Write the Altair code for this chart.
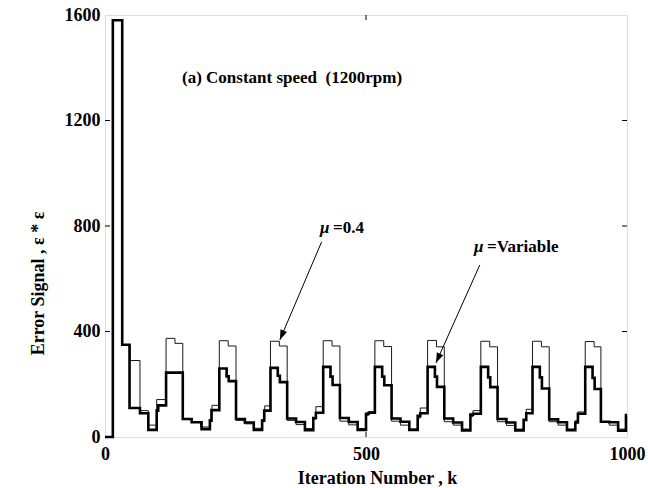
import altair as alt
import pandas as pd

# ---- data ----
# mu = 0.4 (thin line): step breakpoints (iteration k, value)
thin_k = [0, 15, 33, 48, 67, 83, 99, 117, 134, 149, 166, 183, 200, 205,
          219, 236, 251, 268, 285, 301, 306,
          317, 334, 349, 366, 383, 399, 404,
          418, 435, 450, 467, 484, 500, 505,
          517, 534, 549, 566, 583, 599, 604,
          618, 635, 650, 667, 684, 700, 705,
          720, 737, 752, 769, 786, 802, 807,
          819, 836, 851, 868, 885, 901, 906,
          920, 937, 950, 966, 983, 998, 1000]
thin_v = [0, 1580, 350, 290, 100, 45, 142, 374, 355, 66, 58, 38, 66, 120,
          365, 345, 63, 50, 33, 65, 118,
          363, 345, 63, 47, 32, 68, 115,
          365, 345, 60, 46, 32, 82, 96,
          365, 343, 60, 45, 30, 72, 110,
          366, 342, 58, 45, 30, 78, 100,
          363, 342, 58, 44, 30, 65, 105,
          363, 342, 58, 45, 30, 62, 95,
          362, 342, 58, 45, 30, 83, 83]

# mu = Variable (thick line)
thick_k = [0, 15, 33, 47, 67, 83, 99, 102, 117, 149, 166, 185, 201, 204,
           219, 233, 237, 251, 268, 285, 301, 305,
           317, 331, 335, 349, 366, 383, 399, 404,
           418, 432, 436, 450, 467, 484, 500, 505,
           517, 531, 535, 549, 566, 583, 599, 604,
           618, 632, 636, 650, 667, 684, 700, 705,
           720, 734, 738, 752, 769, 786, 802, 807,
           819, 833, 837, 851, 868, 885, 901, 906,
           920, 934, 938, 950, 966, 983, 998, 1000]
thick_v = [0, 1580, 350, 110, 90, 27, 100, 120, 244, 68, 56, 30, 62, 102,
           260, 230, 212, 68, 55, 27, 62, 100,
           262, 232, 208, 70, 57, 26, 72, 92,
           266, 229, 197, 72, 57, 27, 88, 92,
           266, 229, 196, 70, 58, 27, 80, 90,
           266, 229, 190, 70, 55, 25, 85, 88,
           266, 226, 189, 68, 55, 25, 65, 90,
           266, 226, 184, 67, 56, 26, 55, 88,
           266, 224, 182, 58, 56, 24, 83, 83]

x_ticks = [0, 500, 1000]
y_ticks = [0, 400, 800, 1200, 1600]
x_inner_ticks = [500]
y_inner_ticks = [400, 800, 1200]

title_text = ["(a) Constant speed \u00a0(1200rpm)"]
title_k = [147.5]
title_v = [1342]

mu_k = [412, 707]
mu_v = [772, 702]
mu_rest = ["=0.4", "=Variable"]

arrow_k0 = [415, 718]
arrow_v0 = [740, 652]
arrow_k1 = [335, 634]
arrow_v1 = [368, 281]
arrow_angle = [202.7, 204.2]

FONT = "Times New Roman, Liberation Serif, serif"

thin_df = pd.DataFrame({"k": thin_k, "v": thin_v})
thick_df = pd.DataFrame({"k": thick_k, "v": thick_v})
xt_df = pd.DataFrame({"k": x_inner_ticks})
yt_df = pd.DataFrame({"v": y_inner_ticks})
title_df = pd.DataFrame({"k": title_k, "v": title_v, "t": title_text})
mu_df = pd.DataFrame({"k": mu_k, "v": mu_v, "t": mu_rest})
arrow_df = pd.DataFrame({"k": arrow_k0, "v": arrow_v0, "k2": arrow_k1,
                         "v2": arrow_v1})
head_df = pd.DataFrame({"k": arrow_k1, "v": arrow_v1, "a": arrow_angle})

xscale = alt.Scale(domain=[0, 1000], nice=False, zero=False)
yscale = alt.Scale(domain=[0, 1600], nice=False, zero=False)

xaxis = alt.Axis(values=x_ticks, ticks=False, domain=False, grid=False,
                 labelFont=FONT, labelFontSize=18, labelFontWeight="bold",
                 labelColor="black", labelPadding=8, labelFlush=False,
                 format="d",
                 title="Iteration Number , k", titleFont=FONT,
                 titleFontSize=18, titleFontWeight="bold", titleColor="black",
                 titleX=272, titleY=46, titleAlign="center",
                 titleBaseline="alphabetic")
yaxis = alt.Axis(values=y_ticks, ticks=False, domain=False, grid=False,
                 labelFont=FONT, labelFontSize=18, labelFontWeight="bold",
                 labelColor="black", labelPadding=5, labelFlush=False,
                 format="d",
                 title="Error Signal , \u03b5 * \u03b5", titleFont=FONT,
                 titleFontSize=18, titleFontWeight="bold", titleColor="black",
                 titleAngle=270, titleX=-67, titleY=268,
                 titleAlign="center", titleBaseline="middle")


def X(f="k"):
    return alt.X(f"{f}:Q", scale=xscale, axis=xaxis)


def Y(f="v"):
    return alt.Y(f"{f}:Q", scale=yscale, axis=yaxis)


thin = alt.Chart(thin_df).mark_line(
    interpolate="step-after", color="#1a1a1a", strokeWidth=1
).encode(x=X(), y=Y())

thick = alt.Chart(thick_df).mark_line(
    interpolate="step-after", color="black", strokeWidth=2.6
).encode(x=X(), y=Y())

xt_bottom = alt.Chart(xt_df).mark_rule(color="black", strokeWidth=1).encode(
    x=X(), y=alt.value(422), y2=alt.value(417))
xt_top = alt.Chart(xt_df).mark_rule(color="black", strokeWidth=1).encode(
    x=X(), y=alt.value(0), y2=alt.value(5))
yt_left = alt.Chart(yt_df).mark_rule(color="black", strokeWidth=1).encode(
    y=Y(), x=alt.value(0), x2=alt.value(5))
yt_right = alt.Chart(yt_df).mark_rule(color="black", strokeWidth=1).encode(
    y=Y(), x=alt.value(517), x2=alt.value(522))

title = alt.Chart(title_df).mark_text(
    font=FONT, fontSize=17, fontWeight="bold", color="black",
    align="left", baseline="alphabetic"
).encode(x=X(), y=Y(), text="t:N")

mu_sym = alt.Chart(mu_df).mark_text(
    font=FONT, fontSize=17, fontWeight="bold", fontStyle="italic",
    color="black", align="left", baseline="alphabetic", text="\u03bc"
).encode(x=X(), y=Y())

mu_txt = alt.Chart(mu_df).mark_text(
    font=FONT, fontSize=17, fontWeight="bold", color="black",
    align="left", baseline="alphabetic", dx=13
).encode(x=X(), y=Y(), text="t:N")

shafts = alt.Chart(arrow_df).mark_rule(color="black", strokeWidth=1).encode(
    x=X(), y=Y(), x2="k2:Q", y2="v2:Q")

heads = alt.Chart(head_df).mark_point(
    shape="M0,0L-0.7,2L0.7,2Z", filled=True, color="black", opacity=1,
    size=100, strokeWidth=0
).encode(x=X(), y=Y(), angle=alt.Angle("a:Q", scale=None))

chart = alt.layer(
    thin, thick, xt_bottom, xt_top, yt_left, yt_right,
    title, mu_sym, mu_txt, shafts, heads
).properties(
    width=522, height=422,
    padding={"left": 105, "top": 15, "right": 21, "bottom": 51},
    autosize=alt.AutoSizeParams(type="none"),
).configure_view(
    stroke="black", strokeWidth=1
).configure(background="white")

chart.save("out.html", embed_options={"renderer": "svg", "actions": False})
